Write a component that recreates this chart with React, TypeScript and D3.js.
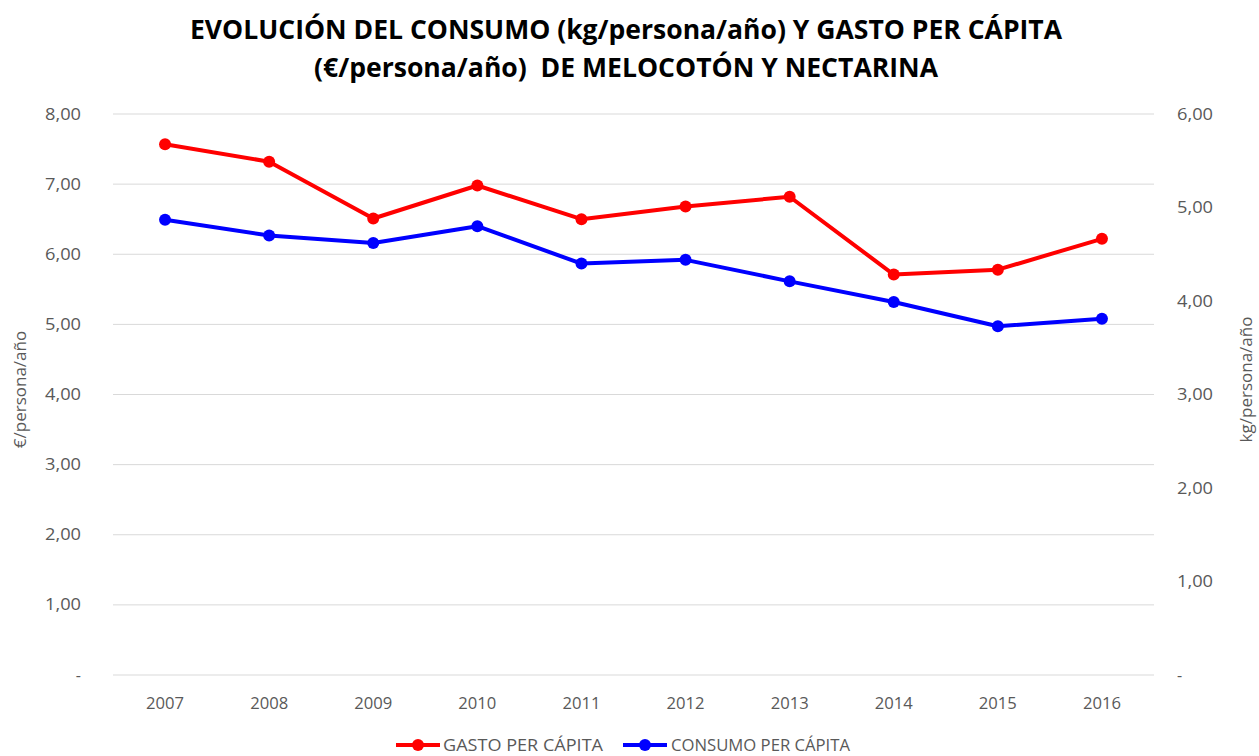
import React from "react";
import * as d3 from "d3";

const years = ["2007", "2008", "2009", "2010", "2011", "2012", "2013", "2014", "2015", "2016"];
const gasto = [7.57, 7.32, 6.51, 6.98, 6.5, 6.68, 6.82, 5.71, 5.78, 6.22];
const consumo = [4.87, 4.7, 4.62, 4.8, 4.4, 4.44, 4.21, 3.99, 3.73, 3.81];
const leftTicks = [0, 1, 2, 3, 4, 5, 6, 7, 8];
const rightTicks = [0, 1, 2, 3, 4, 5, 6];
const titleLines = [
  "EVOLUCIÓN DEL CONSUMO (kg/persona/año) Y GASTO PER CÁPITA",
  "(€/persona/año)  DE MELOCOTÓN Y NECTARINA",
];
const seriesNames = ["GASTO PER CÁPITA", "CONSUMO PER CÁPITA"];

const W = 1259;
const H = 756;
const left = 113;
const right = 1154;
const top = 114;
const bottom = 675;

const fmt = (v: number) => (v === 0 ? "-" : v.toFixed(2).replace(".", ","));

export default function App() {
  const x = d3.scaleBand<string>().domain(years).range([left, right]);
  const yL = d3.scaleLinear().domain([0, 8]).range([bottom, top]);
  const yR = d3.scaleLinear().domain([0, 6]).range([bottom, top]);
  const cx = (y: string) => (x(y) ?? 0) + x.bandwidth() / 2;

  const lineL = d3
    .line<number>()
    .x((_, i) => cx(years[i]))
    .y((d) => yL(d));
  const lineR = d3
    .line<number>()
    .x((_, i) => cx(years[i]))
    .y((d) => yR(d));

  const tickFont = "'Open Sans', sans-serif";
  const tickColor = "#595959";

  const series = [
    { name: seriesNames[0], data: gasto, color: "#ff0000", line: lineL, y: yL },
    { name: seriesNames[1], data: consumo, color: "#0000ff", line: lineR, y: yR },
  ];

  const legendItems = [
    { name: seriesNames[0], color: "#ff0000", x0: 396, tx: 443, tl: 160 },
    { name: seriesNames[1], color: "#0000ff", x0: 623, tx: 671, tl: 179 },
  ];

  return (
    <svg
      width={W}
      height={H}
      style={{ position: "absolute", left: 0, top: 0, background: "#fff" }}
    >
      <rect x={0} y={0} width={W} height={H} fill="#fff" />
      {titleLines.map((t, i) => (
        <text
          key={i}
          x={626}
          y={39 + i * 38}
          textAnchor="middle"
          fontFamily={tickFont}
          fontWeight={700}
          fontSize={26}
          fill="#000"
          textLength={i === 0 ? 872 : 624}
          lengthAdjust="spacingAndGlyphs"
          style={{ whiteSpace: "pre" }}
        >
          {t}
        </text>
      ))}

      {leftTicks.map((v) => (
        <line
          key={"g" + v}
          x1={left}
          x2={right}
          y1={yL(v)}
          y2={yL(v)}
          stroke="#d9d9d9"
          strokeWidth={1}
        />
      ))}

      {leftTicks.map((v) => (
        <text
          key={"l" + v}
          x={81}
          y={yL(v)}
          dy="0.35em"
          textAnchor="end"
          fontFamily={tickFont}
          fontSize={16}
          fill={tickColor}
          textLength={v === 0 ? undefined : 36}
          lengthAdjust="spacingAndGlyphs"
        >
          {fmt(v)}
        </text>
      ))}
      {rightTicks.map((v) => (
        <text
          key={"r" + v}
          x={1177}
          y={yR(v)}
          dy="0.35em"
          textAnchor="start"
          fontFamily={tickFont}
          fontSize={16}
          fill={tickColor}
          textLength={v === 0 ? undefined : 36}
          lengthAdjust="spacingAndGlyphs"
        >
          {fmt(v)}
        </text>
      ))}
      {years.map((yr) => (
        <text
          key={"x" + yr}
          x={cx(yr)}
          y={703}
          dy="0.35em"
          textAnchor="middle"
          fontFamily={tickFont}
          fontSize={16}
          fill={tickColor}
          textLength={38}
          lengthAdjust="spacingAndGlyphs"
        >
          {yr}
        </text>
      ))}

      <text
        transform={`translate(26, ${(top + bottom) / 2 - 5}) rotate(-90)`}
        textAnchor="middle"
        fontFamily={tickFont}
        fontSize={17}
        fill={tickColor}
      >
        €/persona/año
      </text>
      <text
        transform={`translate(1252, ${(top + bottom) / 2 - 15}) rotate(-90)`}
        textAnchor="middle"
        fontFamily={tickFont}
        fontSize={17}
        fill={tickColor}
      >
        kg/persona/año
      </text>

      {series.map((s) => (
        <g key={s.name}>
          <path
            d={s.line(s.data) ?? ""}
            fill="none"
            stroke={s.color}
            strokeWidth={4}
            strokeLinejoin="round"
          />
          {s.data.map((d, i) => (
            <circle key={i} cx={cx(years[i])} cy={s.y(d)} r={6} fill={s.color} />
          ))}
        </g>
      ))}

      {legendItems.map((l) => (
        <g key={l.name}>
          <line
            x1={l.x0}
            x2={l.x0 + 44}
            y1={745}
            y2={745}
            stroke={l.color}
            strokeWidth={4}
          />
          <circle cx={l.x0 + 22} cy={745} r={6} fill={l.color} />
          <text
            x={l.tx}
            y={745}
            dy="0.35em"
            fontFamily={tickFont}
            fontSize={16}
            fill={tickColor}
            textLength={l.tl}
            lengthAdjust="spacingAndGlyphs"
          >
            {l.name}
          </text>
        </g>
      ))}
    </svg>
  );
}
